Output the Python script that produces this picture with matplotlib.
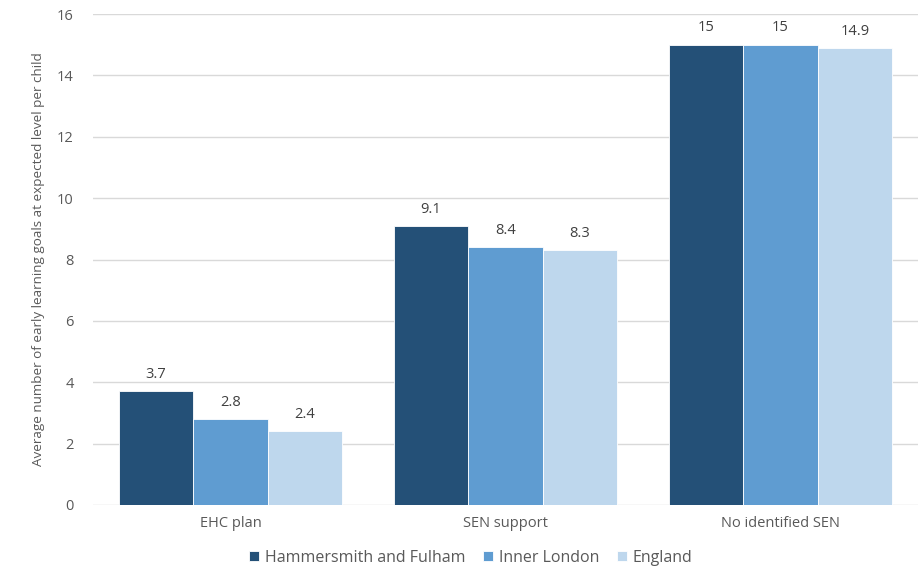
import matplotlib
matplotlib.use("Agg")
from matplotlib import pyplot as plt
import numpy as np

categories = ["EHC plan", "SEN support", "No identified SEN"]
series_names = ["Hammersmith and Fulham", "Inner London", "England"]
hf_values = [3.7, 9.1, 15]
london_values = [2.8, 8.4, 15]
england_values = [2.4, 8.3, 14.9]
colors = ["#245077", "#5f9cd1", "#bed7ed"]

plt.rcParams["font.family"] = ["Open Sans", "DejaVu Sans"]

fig = plt.figure(figsize=(9.2, 5.68), dpi=100)
ax = fig.add_axes([93 / 920, 1 - 505 / 568, (918 - 93) / 920, (505 - 14) / 568])

x = np.arange(len(categories))
width = 0.271
text_color = "#595959"

for i, (name, vals) in enumerate(zip(series_names, [hf_values, london_values, england_values])):
    pos = x + (i - 1) * width
    bars = ax.bar(pos, vals, width, color=colors[i], label=name,
                  edgecolor="white", linewidth=0.6, zorder=3)
    for b, v in zip(bars, vals):
        ax.text(b.get_x() + b.get_width() / 2, v + 0.3, f"{v:g}",
                ha="center", va="bottom", fontsize=10.5, color="#404040")

ax.set_xlim(-0.5, 2.5)
ax.set_ylim(0, 16)
ax.set_yticks(range(0, 17, 2))
ax.set_xticks(x)
ax.set_xticklabels(categories)
ax.tick_params(axis="both", length=0, labelsize=10.5, colors=text_color)
ax.tick_params(axis="y", pad=14)
ax.tick_params(axis="x", pad=8)
ax.grid(axis="y", color="#d9d9d9", linewidth=1, zorder=0)
for s in ax.spines.values():
    s.set_visible(False)

ax.set_ylabel("Average number of early learning goals at expected level per child",
              fontsize=9.7, color=text_color)
ax.yaxis.set_label_coords(-0.058, 0.5)

ax.legend(loc="center", bbox_to_anchor=(0.458, -0.108), ncol=3, frameon=False,
          fontsize=11.5, labelcolor=text_color, handlelength=0.6, handleheight=0.6,
          handletextpad=0.4, columnspacing=1.1)

fig.savefig("out.png", dpi=100)
